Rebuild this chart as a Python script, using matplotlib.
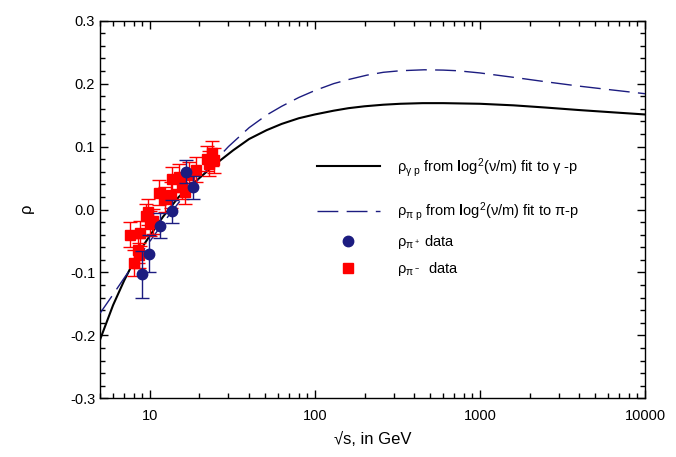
import matplotlib
matplotlib.use("Agg")
import matplotlib.pyplot as plt
from matplotlib.ticker import LogLocator, MultipleLocator, FuncFormatter, NullFormatter
from matplotlib.lines import Line2D

plt.rcParams['font.family'] = ['Liberation Sans', 'DejaVu Sans']
plt.rcParams['mathtext.fontset'] = 'custom'
plt.rcParams['mathtext.rm'] = 'Liberation Sans'
plt.rcParams['mathtext.it'] = 'Liberation Sans'
plt.rcParams['mathtext.bf'] = 'Liberation Sans:bold'

# rho_gamma_p fit curve (sqrt(s) in GeV, rho)
gp_sqrt_s = [5, 6, 7, 8, 9, 10, 12, 15, 20, 25, 32, 40, 51, 63, 80, 100,
             130, 160, 200, 260, 330, 450, 600, 1000, 1600, 2500, 4000,
             6300, 10000]
gp_rho = [-0.207, -0.152, -0.113, -0.083, -0.060, -0.042, -0.012, 0.020,
          0.050, 0.072, 0.094, 0.112, 0.126, 0.136, 0.145, 0.151, 0.157,
          0.161, 0.164, 0.1665, 0.168, 0.169, 0.169, 0.168, 0.1655, 0.162,
          0.158, 0.1545, 0.151]

# rho_pi_p fit curve
pp_sqrt_s = [5, 6, 7, 8, 9, 10, 12, 15, 20, 25, 30, 40, 51, 63, 80, 100,
             130, 160, 207, 260, 330, 460, 600, 730, 1000, 1600, 2500,
             4000, 6300, 10000]
pp_rho = [-0.165, -0.135, -0.109, -0.087, -0.068, -0.051, -0.022, 0.011,
          0.050, 0.078, 0.100, 0.130, 0.150, 0.164, 0.178, 0.189, 0.200,
          0.2065, 0.2135, 0.218, 0.2205, 0.222, 0.2215, 0.2205, 0.217,
          0.210, 0.203, 0.196, 0.190, 0.184]

# pi+ p data
pip_sqrt_s = [9.0, 9.9, 11.6, 13.6, 16.7, 18.3]
pip_rho = [-0.103, -0.070, -0.026, -0.003, 0.060, 0.035]
pip_err = [0.037, 0.030, 0.020, 0.018, 0.018, 0.018]

# pi- p data
pim_sqrt_s = [7.55, 8.0, 8.5, 8.6, 8.7, 9.55, 9.75, 10.0, 10.5, 11.4, 12.3,
              13.4, 13.7, 15.1, 15.6, 16.4, 17.2, 19.2, 22.1, 22.9, 23.7, 24.6]
pim_rho = [-0.040, -0.085, -0.065, -0.073, -0.038, -0.011, -0.004, -0.022,
           -0.019, 0.027, 0.016, 0.023, 0.048, 0.052, 0.036, 0.028, 0.055,
           0.063, 0.081, 0.073, 0.089, 0.078]
pim_err = [0.020] * len(pim_sqrt_s)

navy = '#1c1c80'
red = '#ff0000'

fig = plt.figure(figsize=(6.76, 4.57), dpi=100)
ax = fig.add_axes([100 / 676, 1 - 398.3 / 457, 545 / 676, (398.3 - 20.7) / 457])

l1, = ax.plot(gp_sqrt_s, gp_rho, color='black', lw=1.5, zorder=3)
l2, = ax.plot(pp_sqrt_s, pp_rho, color=navy, lw=1.0, dashes=(15, 6), zorder=3)

ax.errorbar(pim_sqrt_s, pim_rho, yerr=pim_err, fmt='s', color=red, ms=7,
            ecolor=red, elinewidth=1.0, capsize=5, capthick=1.0, zorder=4)
ax.errorbar(pip_sqrt_s, pip_rho, yerr=pip_err, fmt='o', color=navy, ms=7.5,
            ecolor=navy, elinewidth=1.0, capsize=5, capthick=1.0, zorder=5)

ax.set_xscale('log')
ax.set_xlim(5, 10000)
ax.set_ylim(-0.3, 0.3)
ax.xaxis.set_major_locator(LogLocator(base=10, numticks=10))
ax.xaxis.set_minor_locator(LogLocator(base=10, subs=range(2, 10), numticks=20))
ax.xaxis.set_major_formatter(FuncFormatter(lambda v, p: f'{v:.0f}'))
ax.xaxis.set_minor_formatter(NullFormatter())
ax.yaxis.set_major_locator(MultipleLocator(0.1))
ax.yaxis.set_minor_locator(MultipleLocator(0.02))
ax.yaxis.set_major_formatter(FuncFormatter(lambda v, p: f'{v:.1f}'.replace('\u2212', '-')))

ax.tick_params(which='both', direction='in', top=True, right=True, labelsize=10.5)
ax.tick_params(which='major', length=6, width=1)
ax.tick_params(which='minor', length=3.5, width=1)
for s in ax.spines.values():
    s.set_linewidth(1.0)
ax.tick_params(axis='x', pad=8)

ax.set_xlabel('\u221as, in GeV', fontsize=12, labelpad=6)
ax.set_ylabel(r'$\rho$', fontsize=12, labelpad=24)

labels_lines = [r'$\rho_{\gamma\ p}$ from $\mathbf{l}$og$^2$($\nu$/m) fit to $\gamma$ -p',
                r'$\rho_{\pi\ p}$ from $\mathbf{l}$og$^2$($\nu$/m) fit to $\pi$-p']
leg1 = ax.legend([l1, l2], labels_lines, loc='center left',
                 bbox_to_anchor=(317 / 676, 1 - 189.5 / 457),
                 bbox_transform=fig.transFigure, frameon=False, fontsize=10.5,
                 handlelength=4.3, handletextpad=1.2, labelspacing=1.5,
                 borderpad=0, borderaxespad=0)
ax.add_artist(leg1)

h3 = Line2D([], [], ls='none', marker='o', color=navy, ms=7.5)
h4 = Line2D([], [], ls='none', marker='s', color=red, ms=7)
labels_pts = [r'$\rho_{\pi^+}$ data', r'$\rho_{\pi^-}$  data']
ax.legend([h3, h4], labels_pts, loc='center left',
          bbox_to_anchor=(317 / 676, 1 - 255.5 / 457),
          bbox_transform=fig.transFigure, frameon=False, fontsize=10.5,
          handlelength=4.3, handletextpad=1.2, labelspacing=0.65,
          borderpad=0, borderaxespad=0)

fig.savefig('out.png', dpi=100)
